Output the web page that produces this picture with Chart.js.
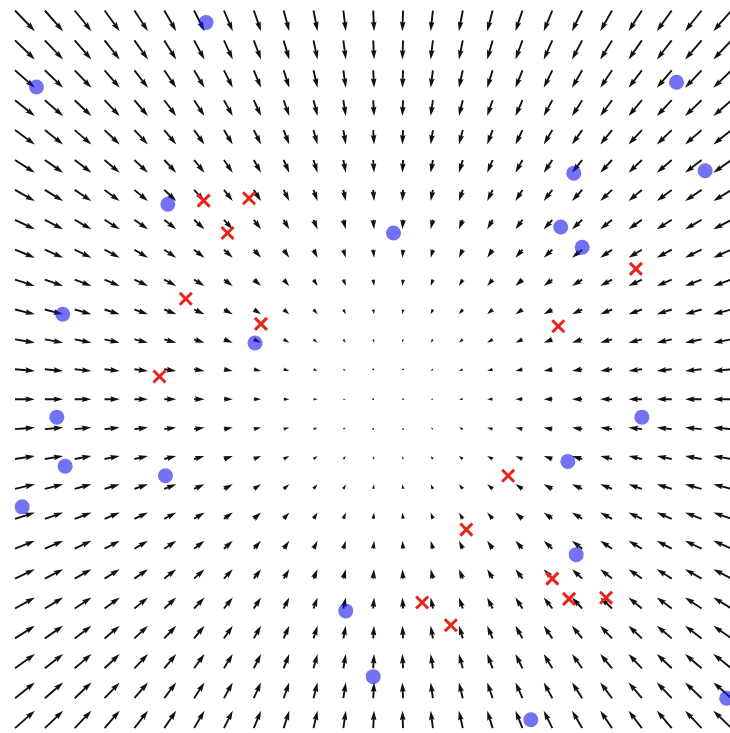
<!DOCTYPE html>
<html>
<head>
<meta charset="utf-8">
<title>Vector field with two classes</title>
<script src="https://cdn.jsdelivr.net/npm/chart.js@4/dist/chart.umd.min.js"></script>
<style>
  html, body { margin: 0; padding: 0; background: #ffffff; }
  canvas { display: block; }
</style>
</head>
<body>
<canvas id="field" width="730" height="733"></canvas>
<script>
// Grid positions of the arrows (data units)
const gridX = [-3, -2.75, -2.5, -2.25, -2, -1.75, -1.5, -1.25, -1, -0.75, -0.5, -0.25, 0,
               0.25, 0.5, 0.75, 1, 1.25, 1.5, 1.75, 2, 2.25, 2.5, 2.75, 3];
const gridY = [-3, -2.75, -2.5, -2.25, -2, -1.75, -1.5, -1.25, -1, -0.75, -0.5, -0.25, 0,
               0.25, 0.5, 0.75, 1, 1.25, 1.5, 1.75, 2, 2.25, 2.5, 2.75, 3];

// Horizontal component of the field for each column, vertical component for each row
const fieldU = [3.14, 2.89, 2.64, 2.39, 2.14, 1.89, 1.64, 1.39, 1.14, 0.89, 0.64, 0.39, 0.14,
                -0.11, -0.36, -0.61, -0.86, -1.11, -1.36, -1.61, -1.86, -2.11, -2.36, -2.61, -2.86];
const fieldV = [2.74, 2.49, 2.24, 1.99, 1.74, 1.49, 1.24, 0.99, 0.74, 0.49, 0.24, -0.01, -0.26,
                -0.51, -0.76, -1.01, -1.26, -1.51, -1.76, -2.01, -2.26, -2.51, -2.76, -3.01, -3.26];

// Class A samples (blue circles)
const blueX = [-1.40, -2.82, 2.54, 1.68, 2.78, -1.72, 0.17, 1.57, 1.75, -2.60, -0.99,
               -2.65, 2.25, 1.63, -2.58, -1.74, -2.94, 1.70, -0.23, 0.00, 1.32, 2.96];
const blueY = [2.90, 2.36, 2.40, 1.64, 1.66, 1.38, 1.14, 1.19, 1.02, 0.46, 0.22,
               -0.40, -0.40, -0.77, -0.81, -0.89, -1.15, -1.55, -2.02, -2.57, -2.93, -2.75];

// Class B samples (red crosses)
const redX = [-1.42, -1.04, -1.22, -1.57, -0.94, -1.79, 2.20, 1.55, 1.13, 0.78, 1.50, 1.64, 1.95, 0.41, 0.65];
const redY = [1.41, 1.43, 1.14, 0.59, 0.38, -0.06, 0.84, 0.36, -0.89, -1.34, -1.75, -1.92, -1.91, -1.95, -2.14];

// Quiver drawing parameters
const ARROW_SCALE = 0.053;   // data units of arrow per unit of field
const SHAFT_W = 1.9;         // shaft width in pixels
const HEAD_W = 3, HEAD_L = 5, HEAD_AXIS_L = 4.5, MIN_SHAFT = 1, MIN_LEN = 1;

function arrowShape(L) {
  // polygon in shaft-width units, arrow along +x, tail at origin
  if (L < MIN_LEN) {
    const pts = [];
    for (let k = 0; k < 8; k++) {
      const th = k * Math.PI / 3;
      pts.push([Math.cos(th) * MIN_LEN * 0.5, Math.sin(th) * MIN_LEN * 0.5]);
    }
    return pts;
  }
  const minsh = MIN_SHAFT * HEAD_L;
  let xs, ys;
  if (L >= minsh) {
    xs = [0, L - HEAD_AXIS_L, L - HEAD_L, L];
    ys = [0.5, 0.5, HEAD_W / 2, 0];
  } else {
    const s = L / minsh;
    xs = [0, minsh - HEAD_AXIS_L, minsh - HEAD_L, minsh].map(v => v * s);
    ys = [0.5, 0.5, HEAD_W / 2, 0].map(v => v * s);
  }
  return [[xs[0], ys[0]], [xs[1], ys[1]], [xs[2], ys[2]], [xs[3], 0],
          [xs[2], -ys[2]], [xs[1], -ys[1]], [xs[0], -ys[0]]];
}

const quiverPlugin = {
  id: 'quiver',
  beforeDatasetsDraw(chart) {
    const ctx = chart.ctx;
    const sx = chart.scales.x, sy = chart.scales.y;
    ctx.save();
    ctx.fillStyle = '#111111';
    for (let j = 0; j < gridY.length; j++) {
      for (let i = 0; i < gridX.length; i++) {
        const x0 = gridX[i], y0 = gridY[j];
        const x1 = x0 + ARROW_SCALE * fieldU[i];
        const y1 = y0 + ARROW_SCALE * fieldV[j];
        const px0 = sx.getPixelForValue(x0), py0 = sy.getPixelForValue(y0);
        const px1 = sx.getPixelForValue(x1), py1 = sy.getPixelForValue(y1);
        const dx = px1 - px0, dy = py1 - py0;
        const len = Math.hypot(dx, dy) / SHAFT_W;
        const ang = Math.atan2(dy, dx);
        const pts = arrowShape(len);
        const c = Math.cos(ang), s = Math.sin(ang);
        ctx.beginPath();
        pts.forEach((p, k) => {
          const X = px0 + (p[0] * c - p[1] * s) * SHAFT_W;
          const Y = py0 + (p[0] * s + p[1] * c) * SHAFT_W;
          if (k === 0) ctx.moveTo(X, Y); else ctx.lineTo(X, Y);
        });
        ctx.closePath();
        ctx.fill();
      }
    }
    ctx.restore();
  }
};

const toPoints = (xs, ys) => xs.map((x, i) => ({ x, y: ys[i] }));

new Chart(document.getElementById('field'), {
  type: 'scatter',
  data: {
    datasets: [
      {
        label: 'A',
        data: toPoints(blueX, blueY),
        pointStyle: 'circle',
        pointRadius: 7.5,
        backgroundColor: 'rgba(20, 20, 235, 0.6)',
        borderWidth: 0,
        clip: false
      },
      {
        label: 'B',
        data: toPoints(redX, redY),
        pointStyle: 'crossRot',
        pointRadius: 8.5,
        borderColor: '#e8231b',
        borderWidth: 3,
        clip: false
      }
    ]
  },
  options: {
    responsive: false,
    animation: false,
    events: [],
    layout: { padding: 0, autoPadding: false },
    plugins: { legend: { display: false }, tooltip: { enabled: false } },
    scales: {
      x: { type: 'linear', min: -3.1256, max: 2.988, display: false },
      y: { type: 'linear', min: -3.041, max: 3.0878, display: false }
    }
  },
  plugins: [quiverPlugin]
});
</script>
</body>
</html>
